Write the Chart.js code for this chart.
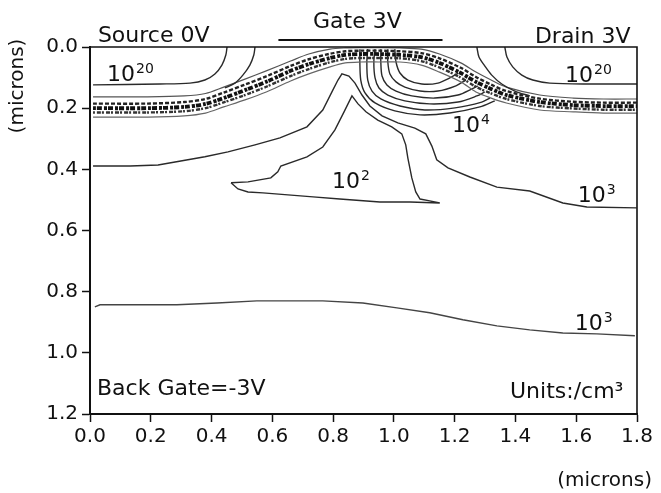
<!DOCTYPE html>
<html><head><meta charset="utf-8">
<script src="https://cdn.jsdelivr.net/npm/chart.js@4.4.1/dist/chart.umd.min.js"></script>
<style>html,body{margin:0;padding:0;background:#fff;}#wrap{width:661px;height:493px;}</style>
</head><body><div id="wrap"><canvas id="c" width="661" height="493"></canvas></div>
<script>
// ---- tick labels ----
const xTickValues = [0,0.2,0.4,0.6,0.8,1.0,1.2,1.4,1.6,1.8];
const yTickValues = [0,0.2,0.4,0.6,0.8,1.0,1.2];

// ---- 10^20 contours under source / drain ----
const sourceInnerX = [0.451,0.447,0.434,0.411,0.378,0.329,0.23,0.01];
const sourceInnerY = [0,0.026,0.059,0.088,0.108,0.118,0.121,0.124];
const sourceOuterX = [0.543,0.539,0.526,0.503,0.477,0.444];
const sourceOuterY = [0,0.026,0.059,0.092,0.118,0.134];
const drainInnerX = [1.365,1.372,1.391,1.421,1.457,1.513,1.645,1.8];
const drainInnerY = [0,0.033,0.065,0.092,0.108,0.118,0.121,0.121];
const drainOuterX = [1.273,1.280,1.299,1.322,1.355,1.398,1.447];
const drainOuterY = [0,0.033,0.062,0.092,0.121,0.144,0.160];

// ---- dense junction band (many contour levels) ----
const bandX      = [0.01,0.19,0.31,0.38,0.44,0.51,0.58,0.66,0.72,0.79,0.84,0.89,0.95,1.02,1.09,1.15,1.22,1.27,1.32,1.37,1.48,1.59,1.69,1.8];
const bandTopY   = [0.163,0.163,0.16,0.152,0.131,0.105,0.078,0.046,0.023,0.007,0.003,0.002,0.002,0.003,0.007,0.023,0.052,0.082,0.108,0.131,0.157,0.167,0.17,0.17];
const bandUpperY = [0.185,0.185,0.18,0.17,0.149,0.123,0.096,0.062,0.04,0.022,0.014,0.012,0.012,0.014,0.02,0.037,0.068,0.098,0.123,0.144,0.169,0.179,0.182,0.182];
const bandMidY   = [0.2,0.2,0.196,0.186,0.167,0.141,0.114,0.078,0.056,0.036,0.026,0.023,0.023,0.026,0.033,0.052,0.085,0.114,0.137,0.157,0.18,0.19,0.193,0.193];
const bandLowerY = [0.214,0.214,0.21,0.2,0.181,0.157,0.13,0.095,0.072,0.05,0.039,0.036,0.036,0.037,0.046,0.067,0.1,0.13,0.152,0.17,0.193,0.201,0.205,0.205];
const bandBotY   = [0.229,0.229,0.225,0.216,0.196,0.173,0.147,0.111,0.088,0.065,0.052,0.049,0.049,0.049,0.059,0.082,0.114,0.147,0.167,0.183,0.206,0.212,0.216,0.216];

// ---- nested arcs under the gate (10^4 ... ) ----
const arc1X = [1.003,1.007,1.020,1.046,1.092,1.145,1.184,1.211];
const arc1Y = [0.007,0.049,0.085,0.108,0.121,0.118,0.101,0.085];
const arc2X = [0.980,0.980,0.987,1.007,1.036,1.086,1.145,1.204,1.237];
const arc2Y = [0.007,0.049,0.088,0.114,0.131,0.144,0.144,0.127,0.108];
const arc3X = [0.957,0.957,0.961,0.977,1.007,1.059,1.135,1.211,1.257,1.276];
const arc3Y = [0.007,0.049,0.095,0.124,0.144,0.160,0.167,0.157,0.137,0.127];
const arc4X = [0.938,0.934,0.938,0.951,0.980,1.036,1.118,1.211,1.273,1.299];
const arc4Y = [0.007,0.049,0.101,0.134,0.157,0.176,0.186,0.180,0.160,0.147];
const arc5X = [0.914,0.911,0.914,0.928,0.957,1.020,1.102,1.201,1.289,1.316];
const arc5Y = [0.007,0.049,0.108,0.144,0.170,0.193,0.206,0.199,0.180,0.167];
const arc6X = [0.888,0.888,0.891,0.905,0.938,1.003,1.086,1.184,1.283,1.332];
const arc6Y = [0.007,0.049,0.108,0.150,0.183,0.209,0.222,0.216,0.196,0.176];

// ---- 10^3 contour (upper), 10^2 pocket, 10^3 contour (lower) ----
const c3UpperX = [0.010,0.132,0.224,0.280,0.378,0.454,0.543,0.625,0.714,0.766,0.799,0.816,0.829,0.852,0.872,0.895,0.921,0.961,1.013,1.069,1.105,1.125,1.141,1.178,1.250,1.339,1.447,1.556,1.635,1.799];
const c3UpperY = [0.389,0.389,0.386,0.376,0.359,0.343,0.320,0.297,0.261,0.206,0.141,0.108,0.088,0.095,0.118,0.157,0.193,0.225,0.248,0.265,0.284,0.324,0.369,0.395,0.425,0.458,0.471,0.510,0.523,0.526];
const c2PocketX = [0.464,0.520,0.595,0.618,0.628,0.714,0.766,0.806,0.836,0.862,0.882,0.908,0.947,0.993,1.026,1.039,1.046,1.059,1.072,1.086,1.118,1.151,1.053,0.954,0.822,0.734,0.569,0.520,0.487,0.464];
const c2PocketY = [0.444,0.441,0.428,0.408,0.389,0.359,0.327,0.271,0.212,0.160,0.186,0.212,0.239,0.261,0.284,0.320,0.363,0.428,0.474,0.497,0.503,0.510,0.507,0.507,0.497,0.490,0.477,0.474,0.464,0.444];
const c3LowerX = [0.016,0.033,0.286,0.418,0.549,0.766,0.898,1.010,1.118,1.227,1.339,1.447,1.556,1.668,1.793];
const c3LowerY = [0.850,0.843,0.843,0.837,0.830,0.830,0.837,0.853,0.869,0.892,0.912,0.925,0.935,0.938,0.944];

// ---- gate electrode above the channel ----
const gateX = [0.62,1.16];
const gateY = [-0.023,-0.023];

// ---- text annotations ----
const plainLabels = [
  {text:'Source 0V', x:0.026, y:-0.016, size:22},
  {text:'Gate 3V', x:0.734, y:-0.062, size:22},
  {text:'Drain 3V', x:1.464, y:-0.013, size:22},
  {text:'Back Gate=-3V', x:0.023, y:1.137, size:22},
  {text:'Units:/cm\u00B3', x:1.382, y:1.147, size:22}
];
const powerLabels = [
  {base:'10', sup:'20', x:0.056, y:0.111},
  {base:'10', sup:'20', x:1.563, y:0.114},
  {base:'10', sup:'4', x:1.191, y:0.278},
  {base:'10', sup:'2', x:0.796, y:0.461},
  {base:'10', sup:'3', x:1.605, y:0.507},
  {base:'10', sup:'3', x:1.595, y:0.925}
];

function pts(xs, ys){ return xs.map((x,i)=>({x:x, y:ys[i]})); }
function ds(xs, ys, o){
  return Object.assign({data:pts(xs,ys), showLine:true, pointRadius:0, borderColor:'#2a2a2a', borderWidth:1.4, tension:0, fill:false}, o||{});
}

const datasets = [
  ds(sourceInnerX, sourceInnerY, {tension:0.3}),
  ds(sourceOuterX, sourceOuterY, {tension:0.3}),
  ds(drainInnerX, drainInnerY, {tension:0.3}),
  ds(drainOuterX, drainOuterY, {tension:0.3}),
  ds(bandX, bandTopY, {tension:0.3, borderColor:'#555', borderWidth:1.2}),
  ds(bandX, bandUpperY, {tension:0.3, borderColor:'#222', borderWidth:2.4, borderDash:[4,2]}),
  ds(bandX, bandMidY, {tension:0.3, borderColor:'#111', borderWidth:3.8, borderDash:[3,1,5,2]}),
  ds(bandX, bandLowerY, {tension:0.3, borderColor:'#333', borderWidth:2.4, borderDash:[2,2,4,1]}),
  ds(bandX, bandBotY, {tension:0.3, borderColor:'#666', borderWidth:1.2}),
  ds(arc1X, arc1Y, {tension:0.3}),
  ds(arc2X, arc2Y, {tension:0.3}),
  ds(arc3X, arc3Y, {tension:0.3}),
  ds(arc4X, arc4Y, {tension:0.3}),
  ds(arc5X, arc5Y, {tension:0.3}),
  ds(arc6X, arc6Y, {tension:0.3}),
  ds(c3UpperX, c3UpperY, {}),
  ds(c2PocketX, c2PocketY, {}),
  ds(c3LowerX, c3LowerY, {borderColor:'#444', borderWidth:1.4}),
  ds(gateX, gateY, {borderColor:'#111', borderWidth:2, clip:false})
];

const textPlugin = {
  id:'texts',
  afterDraw(chart){
    const ctx = chart.ctx, xs = chart.scales.x, ys = chart.scales.y, a = chart.chartArea;
    ctx.save();
    ctx.strokeStyle = '#111'; ctx.lineWidth = 1.6;
    ctx.beginPath(); ctx.moveTo(a.left, a.top); ctx.lineTo(a.right, a.top); ctx.lineTo(a.right, a.bottom); ctx.stroke();
    ctx.fillStyle = '#111'; ctx.textAlign = 'left'; ctx.textBaseline = 'alphabetic';
    for (const L of plainLabels){
      ctx.font = L.size + 'px "DejaVu Sans"';
      ctx.fillText(L.text, xs.getPixelForValue(L.x), ys.getPixelForValue(L.y));
    }
    for (const P of powerLabels){
      const px = xs.getPixelForValue(P.x), py = ys.getPixelForValue(P.y);
      ctx.font = '22px "DejaVu Sans"';
      ctx.fillText(P.base, px, py);
      const w = ctx.measureText(P.base).width;
      ctx.font = '14px "DejaVu Sans"';
      ctx.fillText(P.sup, px + w + 1, py - 8);
    }
    // axis titles
    ctx.font = '20px "DejaVu Sans"';
    ctx.textAlign = 'right';
    ctx.fillText('(microns)', a.right + 15, a.bottom + 72);
    ctx.translate(a.left - 72, a.top + 39);
    ctx.rotate(-Math.PI/2);
    ctx.textAlign = 'center'; ctx.textBaseline = 'middle';
    ctx.fillText('(microns)', 0, 0);
    ctx.restore();
  }
};

new Chart(document.getElementById('c'), {
  type:'scatter',
  data:{datasets:datasets},
  options:{
    responsive:false, animation:false,
    layout:{padding:{left:0, top:47, right:24, bottom:0}},
    plugins:{legend:{display:false}, tooltip:{enabled:false}},
    scales:{
      x:{type:'linear', min:0, max:1.8,
        afterBuildTicks:s=>{ s.ticks = xTickValues.map(v=>({value:v})); },
        afterFit:s=>{ s.height = 79; },
        border:{display:true, color:'#111', width:2},
        grid:{display:true, drawOnChartArea:false, drawTicks:true, tickLength:8, tickColor:'#111', tickWidth:1.5},
        ticks:{color:'#111', padding:3, maxRotation:0, autoSkip:false, font:{family:'"DejaVu Sans"', size:20}, callback:v=>Number(v).toFixed(1)}
      },
      y:{type:'linear', min:0, max:1.2, reverse:true,
        afterBuildTicks:s=>{ s.ticks = yTickValues.map(v=>({value:v})); },
        afterFit:s=>{ s.width = 90; },
        border:{display:true, color:'#111', width:2},
        grid:{display:true, drawOnChartArea:false, drawTicks:true, tickLength:8, tickColor:'#111', tickWidth:1.5},
        ticks:{color:'#111', padding:4, autoSkip:false, font:{family:'"DejaVu Sans"', size:20}, callback:v=>Number(v).toFixed(1)}
      }
    }
  },
  plugins:[textPlugin]
});
</script>
</body></html>
